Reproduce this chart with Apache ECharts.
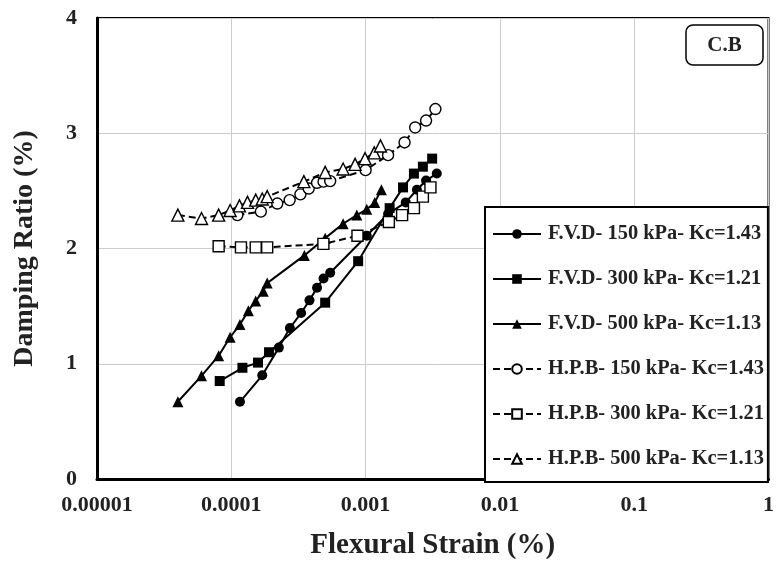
<!DOCTYPE html>
<html><head><meta charset="utf-8">
<script src="https://cdn.jsdelivr.net/npm/echarts@6/dist/echarts.min.js"></script>
<style>html,body{margin:0;padding:0;background:#fff}#c{width:777px;height:565px}</style>
</head><body><div id="c"></div>
<script>
const xTickLabels = ['0.00001','0.0001','0.001','0.01','0.1','1'];
const yTickLabels = ['0','1','2','3','4'];
const seriesNames = ['F.V.D- 150 kPa- Kc=1.43','F.V.D- 300 kPa- Kc=1.21','F.V.D- 500 kPa- Kc=1.13','H.P.B- 150 kPa- Kc=1.43','H.P.B- 300 kPa- Kc=1.21','H.P.B- 500 kPa- Kc=1.13'];

const fvd150_x = [1.16e-4,1.70e-4,2.26e-4,2.73e-4,3.31e-4,3.82e-4,4.35e-4,4.86e-4,5.45e-4,1.02e-3,1.47e-3,1.99e-3,2.41e-3,2.82e-3,3.39e-3];
const fvd150_y = [0.67,0.90,1.14,1.31,1.44,1.55,1.66,1.74,1.79,2.11,2.30,2.40,2.51,2.59,2.65];

const fvd300_x = [8.2e-5,1.21e-4,1.58e-4,1.91e-4,5.0e-4,8.8e-4,1.51e-3,1.90e-3,2.29e-3,2.67e-3,3.13e-3];
const fvd300_y = [0.85,0.965,1.01,1.10,1.53,1.89,2.35,2.53,2.65,2.71,2.78];

const fvd500_x = [4.0e-5,6.0e-5,8.05e-5,9.8e-5,1.16e-4,1.34e-4,1.52e-4,1.73e-4,1.85e-4,3.5e-4,5.0e-4,6.8e-4,8.6e-4,1.02e-3,1.17e-3,1.31e-3];
const fvd500_y = [0.67,0.895,1.07,1.23,1.34,1.46,1.545,1.63,1.70,1.94,2.09,2.215,2.29,2.34,2.40,2.51];

const hpb150_x = [1.11e-4,1.66e-4,2.20e-4,2.72e-4,3.27e-4,3.77e-4,4.35e-4,4.86e-4,5.45e-4,1.0e-3,1.47e-3,1.95e-3,2.34e-3,2.82e-3,3.31e-3];
const hpb150_y = [2.29,2.32,2.39,2.42,2.47,2.52,2.57,2.58,2.585,2.68,2.81,2.92,3.05,3.11,3.21];

const hpb300_x = [8.05e-5,1.18e-4,1.52e-4,1.85e-4,4.85e-4,8.7e-4,1.49e-3,1.87e-3,2.29e-3,2.67e-3,3.04e-3];
const hpb300_y = [2.02,2.01,2.01,2.01,2.04,2.11,2.23,2.29,2.35,2.45,2.53];

const hpb500_x = [4.0e-5,6.0e-5,8.05e-5,9.8e-5,1.15e-4,1.32e-4,1.52e-4,1.70e-4,1.85e-4,3.47e-4,5.0e-4,6.8e-4,8.35e-4,9.9e-4,1.16e-3,1.29e-3];
const hpb500_y = [2.29,2.26,2.29,2.33,2.37,2.40,2.42,2.43,2.45,2.58,2.66,2.69,2.73,2.78,2.83,2.89];

const FONT = '"Liberation Serif","Times New Roman",serif';
function pts(xs, ys){ return xs.map((x,i)=>[x, ys[i]]); }

function mk(name, xs, ys, symbol, size, open){
  return {
    name, type:'line', data: pts(xs, ys), symbol, symbolSize: size, showSymbol:true,
    lineStyle:{color:'#000', width:2, type: open ? [7,4] : 'solid'},
    itemStyle:{color: open ? '#fff' : '#000', borderColor:'#000', borderWidth: open ? 1.4 : 0, opacity:1},
    emphasis:{disabled:true}, animation:false, z: open ? 3 : 2
  };
}

const chart = echarts.init(document.getElementById('c'), null, {renderer:'canvas'});
chart.setOption({
  animation:false,
  backgroundColor:'#fff',
  grid:{left:97, top:18, right:6, bottom:86, show:true, borderColor:'#000', borderWidth:2, backgroundColor:'transparent'},
  xAxis:{
    type:'log', logBase:10, min:0.00001, max:1,
    axisLine:{show:true, onZero:false, lineStyle:{color:'#000', width:3}},
    axisTick:{show:false},
    splitLine:{show:true, lineStyle:{color:'#cccccc', width:1}},
    minorTick:{show:false},
    axisLabel:{margin:15, color:'#222', fontFamily:FONT, fontWeight:'bold', fontSize:22,
      formatter:(v)=> xTickLabels[Math.round(Math.log10(v))+5]},
    name:'Flexural Strain (%)', nameLocation:'middle', nameGap:52,
    nameTextStyle:{fontFamily:FONT, fontWeight:'bold', fontSize:29, color:'#222'}
  },
  yAxis:{
    type:'value', min:0, max:4, interval:1,
    axisLine:{show:true, onZero:false, lineStyle:{color:'#000', width:3}},
    axisTick:{show:false},
    splitLine:{show:true, lineStyle:{color:'#cccccc', width:1}},
    axisLabel:{margin:20, color:'#222', fontFamily:FONT, fontWeight:'bold', fontSize:22,
      formatter:(v)=> yTickLabels[Math.round(v)]},
    name:'Damping Ratio (%)', nameLocation:'middle', nameGap:58, nameRotate:90,
    nameTextStyle:{fontFamily:FONT, fontWeight:'bold', fontSize:28, color:'#222'}
  },
  legend:{
    orient:'vertical', left:485, top:207,
    padding:[17,4,13,7], itemGap:25, itemWidth:48, itemHeight:12,
    backgroundColor:'#fff', borderColor:'#000', borderWidth:2, borderRadius:0,
    textStyle:{fontFamily:FONT, fontWeight:'bold', fontSize:20.4, color:'#222', padding:[0,0,0,2]},
    data: seriesNames, selectedMode:false
  },
  graphic:[
    {type:'rect', x:686, y:25, z:100, shape:{width:77, height:40, r:7},
     style:{fill:'#fff', stroke:'#000', lineWidth:1.5}},
    {type:'text', x:724.5, y:46, z:101,
     style:{text:'C.B', font:'bold 21px '+FONT, fill:'#222', align:'center', verticalAlign:'middle'}}
  ],
  series:[
    mk(seriesNames[0], fvd150_x, fvd150_y, 'circle', 10, false),
    mk(seriesNames[1], fvd300_x, fvd300_y, 'rect', 10, false),
    mk(seriesNames[2], fvd500_x, fvd500_y, 'triangle', 11, false),
    mk(seriesNames[3], hpb150_x, hpb150_y, 'circle', 11, true),
    mk(seriesNames[4], hpb300_x, hpb300_y, 'rect', 11, true),
    mk(seriesNames[5], hpb500_x, hpb500_y, 'triangle', 12, true)
  ]
});
</script></body></html>
